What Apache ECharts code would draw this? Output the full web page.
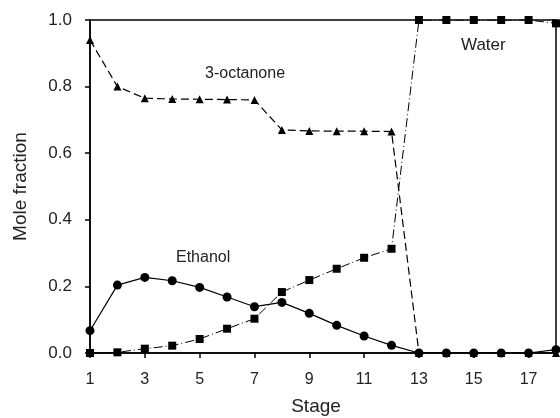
<!DOCTYPE html>
<html><head><meta charset="utf-8">
<script src="https://cdn.jsdelivr.net/npm/echarts@6/dist/echarts.min.js"></script>
<style>html,body{margin:0;padding:0;background:#fff}#c{width:560px;height:418px}</style>
</head><body><div id="c"></div>
<script>
const stages = [1,2,3,4,5,6,7,8,9,10,11,12,13,14,15,16,17,18];
const ethanol = [0.067,0.204,0.227,0.217,0.197,0.168,0.139,0.152,0.119,0.083,0.051,0.023,0.0,0.0,0.0,0.0,0.0,0.01];
const water = [0.0,0.002,0.013,0.022,0.042,0.073,0.103,0.183,0.219,0.253,0.286,0.313,1.0,1.0,1.0,1.0,1.0,0.99];
const octanone = [0.94,0.80,0.765,0.763,0.762,0.761,0.760,0.67,0.667,0.666,0.666,0.665,0.0,0.0,0.0,0.0,0.0,0.0];
const yTicks = ['0.0','0.2','0.4','0.6','0.8','1.0'];
const seriesNames = ['Ethanol','Water','3-octanone'];

const pair = arr => stages.map((s,i)=>[s,arr[i]]);
const font = 'Liberation Sans, Arial, sans-serif';
const chart = echarts.init(document.getElementById('c'));
chart.setOption({
  animation:false,
  grid:{left:90,right:4,top:20,bottom:65,containLabel:false,outerBoundsMode:'none',show:true,borderColor:'#000',borderWidth:1.5,backgroundColor:'transparent'},
  xAxis:{type:'value',min:1,max:18,interval:2,name:'Stage',nameLocation:'middle',nameGap:44,
    nameTextStyle:{color:'#222',fontSize:19,fontFamily:font,padding:[0,14,0,0]},
    axisLine:{lineStyle:{color:'#000',width:1.5}},
    axisTick:{show:true,length:5,lineStyle:{color:'#000',width:1.5}},
    axisLabel:{color:'#222',fontSize:16,fontFamily:font,margin:19,showMaxLabel:false},
    splitLine:{show:false}},
  yAxis:{type:'value',min:0,max:1,interval:0.2,name:'Mole fraction',nameLocation:'middle',nameGap:60,
    nameTextStyle:{color:'#222',fontSize:19,fontFamily:font},
    axisLine:{show:true,lineStyle:{color:'#000',width:1.5}},
    axisTick:{show:true,length:5,lineStyle:{color:'#000',width:1.5}},
    axisLabel:{color:'#222',fontSize:17,fontFamily:font,margin:18,formatter:v=>yTicks[Math.round(v/0.2)]},
    splitLine:{show:false}},
  series:[
    {name:seriesNames[0],type:'line',data:pair(ethanol),symbol:'circle',symbolSize:9,
      itemStyle:{color:'#000'},lineStyle:{color:'#000',width:1.2,type:'solid'},z:3},
    {name:seriesNames[1],type:'line',data:pair(water),symbol:'rect',symbolSize:8,
      itemStyle:{color:'#000'},lineStyle:{color:'#000',width:1,type:[9,3,1,3]},z:2},
    {name:seriesNames[2],type:'line',data:pair(octanone),symbol:'triangle',symbolSize:8,
      itemStyle:{color:'#000'},lineStyle:{color:'#000',width:1.2,type:[8,4]},z:2}
  ],
  graphic:[
    {type:'text',left:205,top:66,style:{text:'3-octanone',fill:'#222',font:'16px '+font}},
    {type:'text',left:461,top:37,style:{text:'Water',fill:'#222',font:'17px '+font}},
    {type:'text',left:176,top:250,style:{text:'Ethanol',fill:'#222',font:'16px '+font}}
  ]
});
</script></body></html>
